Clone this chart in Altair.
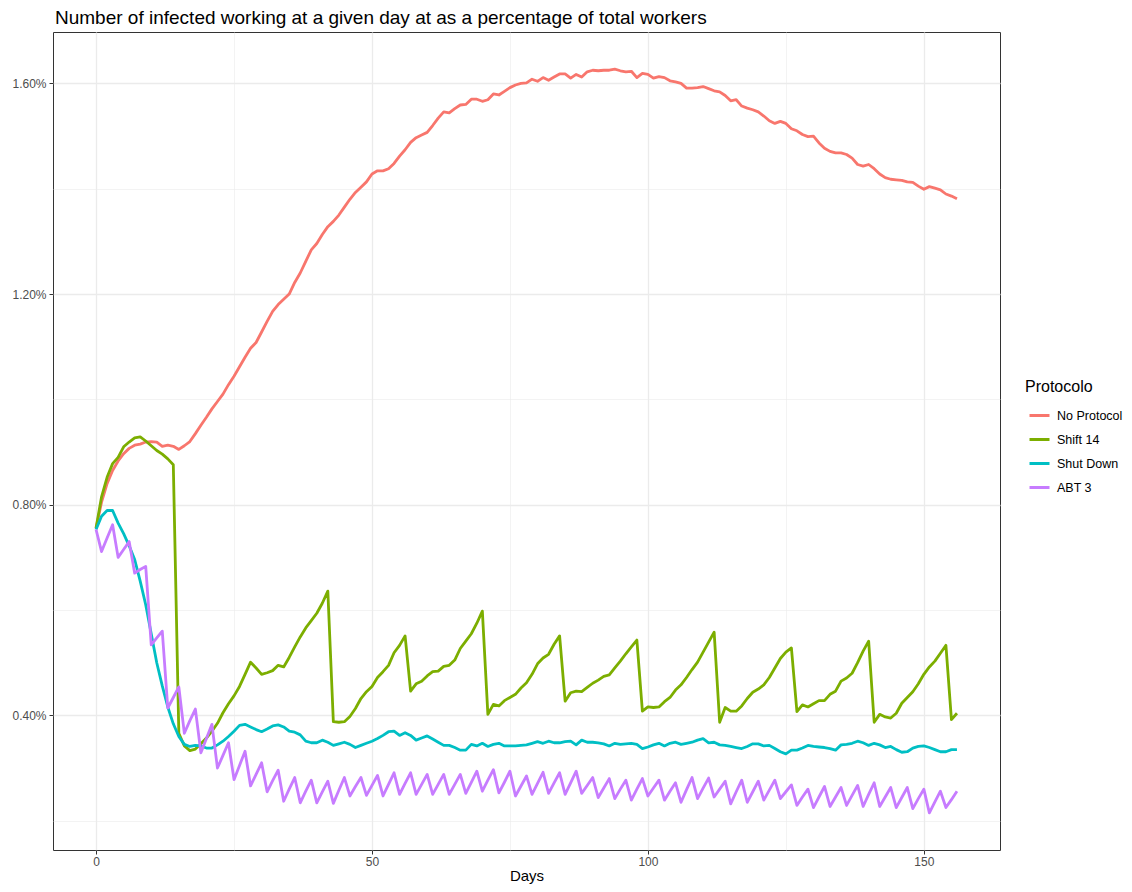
import altair as alt
import pandas as pd

days = list(range(157))

no_protocol = [
    0.755, 0.805, 0.840, 0.865, 0.883, 0.897, 0.907, 0.913, 0.915, 0.919,
    0.920, 0.919, 0.911, 0.913, 0.911, 0.905, 0.912, 0.920, 0.935, 0.951,
    0.966, 0.982, 0.996, 1.010, 1.028, 1.044, 1.062, 1.080, 1.097, 1.108,
    1.128, 1.148, 1.167, 1.180, 1.190, 1.200, 1.222, 1.240, 1.262, 1.284,
    1.296, 1.313, 1.328, 1.338, 1.350, 1.365, 1.380, 1.393, 1.403, 1.413,
    1.428, 1.434, 1.434, 1.438, 1.448, 1.462, 1.474, 1.488, 1.497, 1.502,
    1.507, 1.520, 1.534, 1.546, 1.544, 1.552, 1.559, 1.560, 1.570, 1.570,
    1.566, 1.569, 1.580, 1.578, 1.585, 1.592, 1.597, 1.600, 1.601, 1.608,
    1.604, 1.611, 1.606, 1.612, 1.618, 1.618, 1.610, 1.617, 1.612, 1.622,
    1.625, 1.624, 1.625, 1.625, 1.627, 1.624, 1.622, 1.623, 1.611, 1.619,
    1.617, 1.610, 1.613, 1.611, 1.605, 1.603, 1.600, 1.591, 1.591, 1.592,
    1.594, 1.590, 1.586, 1.584, 1.577, 1.567, 1.569, 1.557, 1.553, 1.550,
    1.546, 1.538, 1.529, 1.524, 1.528, 1.524, 1.514, 1.510, 1.503, 1.499,
    1.500, 1.487, 1.477, 1.471, 1.468, 1.468, 1.465, 1.458, 1.446, 1.443,
    1.446, 1.438, 1.428, 1.421, 1.418, 1.417, 1.416, 1.413, 1.412, 1.405,
    1.399, 1.404, 1.401, 1.398, 1.390, 1.386, 1.381,
]

shift_14 = [
    0.756, 0.815, 0.852, 0.878, 0.890, 0.910, 0.919, 0.927, 0.929, 0.921,
    0.912, 0.903, 0.896, 0.887, 0.876, 0.366, 0.342, 0.333, 0.336, 0.346,
    0.357, 0.370, 0.385, 0.405, 0.422, 0.437, 0.455, 0.478, 0.501, 0.490,
    0.478, 0.481, 0.485, 0.495, 0.492, 0.510, 0.530, 0.549, 0.566, 0.580,
    0.594, 0.613, 0.636, 0.388, 0.387, 0.388, 0.398, 0.413, 0.432, 0.445,
    0.455, 0.472, 0.483, 0.495, 0.519, 0.533, 0.551, 0.446, 0.460, 0.465,
    0.475, 0.483, 0.484, 0.493, 0.495, 0.505, 0.527, 0.541, 0.555, 0.575,
    0.598, 0.402, 0.421, 0.418, 0.428, 0.434, 0.440, 0.452, 0.462, 0.478,
    0.498, 0.509, 0.516, 0.535, 0.551, 0.427, 0.443, 0.446, 0.445, 0.453,
    0.461, 0.467, 0.474, 0.477, 0.490, 0.503, 0.517, 0.530, 0.543, 0.408,
    0.416, 0.415, 0.416, 0.426, 0.434, 0.448, 0.458, 0.472, 0.487, 0.501,
    0.520, 0.539, 0.558, 0.387, 0.415, 0.408, 0.408, 0.418, 0.432, 0.444,
    0.450, 0.458, 0.472, 0.490, 0.508, 0.520, 0.528, 0.407, 0.420, 0.416,
    0.422, 0.428, 0.428, 0.440, 0.446, 0.465, 0.471, 0.480, 0.500, 0.522,
    0.541, 0.387, 0.402, 0.397, 0.395, 0.404, 0.423, 0.434, 0.445, 0.460,
    0.478, 0.492, 0.503, 0.518, 0.533, 0.392, 0.404,
]

shut_down = [
    0.753, 0.778, 0.789, 0.789, 0.765, 0.745, 0.722, 0.696, 0.655, 0.610,
    0.555, 0.500, 0.456, 0.416, 0.384, 0.360, 0.345, 0.341, 0.343, 0.342,
    0.338, 0.338, 0.344, 0.351, 0.360, 0.370, 0.381, 0.383, 0.378, 0.373,
    0.369, 0.374, 0.380, 0.382, 0.378, 0.370, 0.368, 0.363, 0.351, 0.348,
    0.348, 0.353, 0.349, 0.343, 0.346, 0.349, 0.345, 0.339, 0.343, 0.347,
    0.351, 0.356, 0.362, 0.369, 0.370, 0.362, 0.367, 0.362, 0.353, 0.357,
    0.361, 0.355, 0.349, 0.343, 0.343, 0.339, 0.334, 0.334, 0.345, 0.342,
    0.347, 0.341, 0.345, 0.347, 0.342, 0.342, 0.342, 0.343, 0.344, 0.347,
    0.350, 0.347, 0.351, 0.348, 0.348, 0.350, 0.351, 0.344, 0.353, 0.349,
    0.349, 0.348, 0.346, 0.342, 0.347, 0.345, 0.346, 0.347, 0.345, 0.337,
    0.340, 0.344, 0.347, 0.342, 0.347, 0.349, 0.345, 0.347, 0.349, 0.353,
    0.356, 0.348, 0.349, 0.344, 0.343, 0.341, 0.339, 0.337, 0.341, 0.346,
    0.346, 0.342, 0.343, 0.337, 0.331, 0.327, 0.334, 0.334, 0.338, 0.343,
    0.341, 0.340, 0.339, 0.337, 0.334, 0.344, 0.345, 0.347, 0.351, 0.348,
    0.343, 0.347, 0.344, 0.339, 0.341, 0.335, 0.330, 0.331, 0.338, 0.341,
    0.342, 0.339, 0.335, 0.331, 0.331, 0.335, 0.335,
]

abt_3 = [
    0.753, 0.711, 0.737, 0.762, 0.700, 0.715, 0.730, 0.670, 0.677, 0.683,
    0.534, 0.547, 0.560, 0.414, 0.434, 0.454, 0.366, 0.390, 0.412, 0.329,
    0.356, 0.383, 0.300, 0.324, 0.348, 0.278, 0.305, 0.332, 0.266, 0.288,
    0.310, 0.255, 0.276, 0.296, 0.237, 0.260, 0.282, 0.234, 0.256, 0.277,
    0.234, 0.255, 0.275, 0.233, 0.258, 0.282, 0.247, 0.265, 0.282, 0.248,
    0.267, 0.286, 0.247, 0.269, 0.291, 0.250, 0.271, 0.291, 0.250, 0.269,
    0.288, 0.250, 0.269, 0.288, 0.250, 0.269, 0.288, 0.252, 0.273, 0.294,
    0.256, 0.277, 0.297, 0.253, 0.273, 0.294, 0.247, 0.266, 0.285, 0.250,
    0.271, 0.292, 0.252, 0.272, 0.291, 0.250, 0.272, 0.294, 0.252, 0.267,
    0.282, 0.244, 0.262, 0.280, 0.242, 0.260, 0.277, 0.239, 0.260, 0.280,
    0.247, 0.262, 0.277, 0.239, 0.256, 0.272, 0.235, 0.259, 0.282, 0.242,
    0.262, 0.281, 0.245, 0.260, 0.275, 0.232, 0.255, 0.277, 0.235, 0.255,
    0.275, 0.239, 0.258, 0.277, 0.242, 0.255, 0.268, 0.229, 0.245, 0.260,
    0.225, 0.245, 0.265, 0.227, 0.245, 0.263, 0.229, 0.248, 0.267, 0.227,
    0.250, 0.272, 0.227, 0.245, 0.263, 0.225, 0.244, 0.263, 0.223, 0.242,
    0.260, 0.215, 0.236, 0.256, 0.225, 0.240, 0.256,
]

protocols = ["No Protocol", "Shift 14", "Shut Down", "ABT 3"]
colors = ["#F8766D", "#7CAE00", "#00BFC4", "#C77CFF"]
series = [no_protocol, shift_14, shut_down, abt_3]

x_ticks = [0, 25, 50, 75, 100, 125, 150]
y_ticks = [0.2, 0.4, 0.6, 0.8, 1.0, 1.2, 1.4, 1.6]

rows = []
for k, (name, vals) in enumerate(zip(protocols, series)):
    for d, v in zip(days, vals):
        rows.append({"day": d, "value": v, "protocol": name, "ord": k})
df = pd.DataFrame(rows)

# ggplot-like 5% expansion of the data range
allv = [v for s in series for v in s]
ymin, ymax = min(allv), max(allv)
yr = ymax - ymin
xr = max(days) - min(days)
ydom = [ymin - 0.05 * yr, ymax + 0.05 * yr]
xdom = [min(days) - 0.05 * xr, max(days) + 0.05 * xr]

font = "Liberation Sans"

chart = alt.Chart(df).mark_line(strokeWidth=2.8, strokeJoin="round").encode(
    x=alt.X(
        "day:Q",
        scale=alt.Scale(domain=xdom, nice=False, zero=False),
        axis=alt.Axis(
            values=x_ticks,
            labelExpr="datum.value % 50 == 0 ? datum.label : ''",
            gridWidth={"condition": {"test": "datum.value % 50 == 0", "value": 1.3}, "value": 0.6},
            tickOpacity={"condition": {"test": "datum.value % 50 == 0", "value": 1}, "value": 0},
            labelPadding=2,
            titlePadding=1,
        ),
        title="Days",
    ),
    y=alt.Y(
        "value:Q",
        scale=alt.Scale(domain=ydom, nice=False, zero=False),
        axis=alt.Axis(
            values=y_ticks,
            labelExpr="round(datum.value*10) % 4 == 0 ? format(datum.value, '.2f') + '%' : ''",
            gridWidth={"condition": {"test": "round(datum.value*10) % 4 == 0", "value": 1.3}, "value": 0.6},
            tickOpacity={"condition": {"test": "round(datum.value*10) % 4 == 0", "value": 1}, "value": 0},
            labelPadding=3,
        ),
        title=None,
    ),
    color=alt.Color(
        "protocol:N",
        scale=alt.Scale(domain=protocols, range=colors),
        legend=alt.Legend(
            title="Protocolo",
            orient="none",
            legendX=972,
            legendY=347,
            symbolType="stroke",
            symbolStrokeWidth=3,
            symbolSize=400,
            symbolOffset=3,
            rowPadding=6,
            titlePadding=9,
            labelOffset=6,
        ),
    ),
    order=alt.Order("ord:Q"),
).properties(
    width=947,
    height=818,
    title=alt.TitleParams(
        "Number of infected working at a given day at as a percentage of total workers",
        anchor="start",
        frame="group",
        offset=4,
        dx=2,
        fontSize=19,
        font=font,
        fontWeight="normal",
        color="#000000",
    ),
    autosize=alt.AutoSizeParams(type="none"),
    padding={"left": 45, "top": 24, "right": 124, "bottom": 34},
).configure_view(
    stroke="#333333", strokeWidth=1
).configure_axis(
    domain=False,
    tickColor="#333333",
    tickSize=4,
    tickWidth=1,
    labelColor="#4D4D4D",
    labelFont=font,
    labelFontSize=12,
    gridColor="#EBEBEB",
    titleFont=font,
    titleFontSize=15,
    titleFontWeight="normal",
    titleColor="#000000",
).configure_legend(
    titleFont=font,
    titleFontSize=16,
    titleFontWeight="normal",
    titleColor="#000000",
    labelFont=font,
    labelFontSize=12.5,
    labelColor="#000000",
)

chart.save("out.html", embed_options={"renderer": "svg", "actions": False})
